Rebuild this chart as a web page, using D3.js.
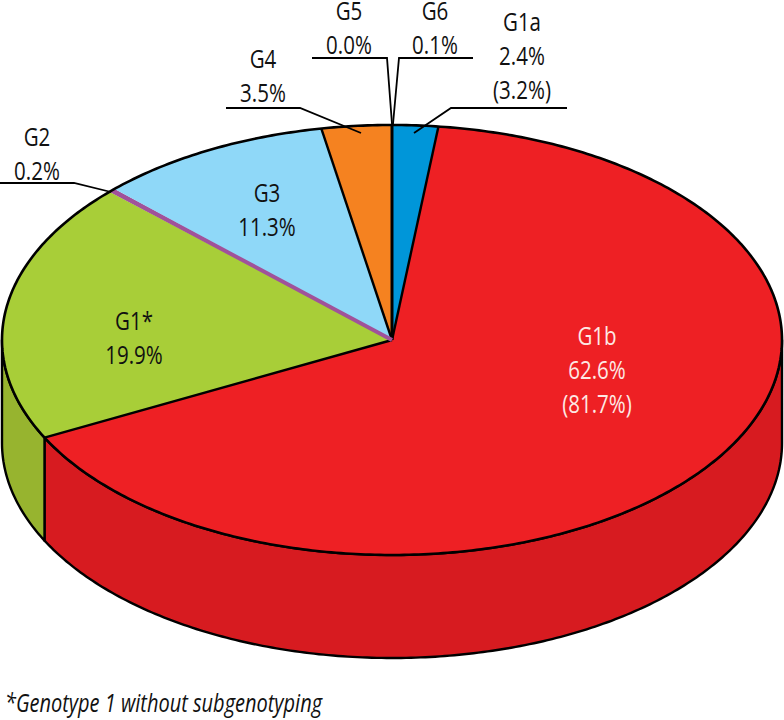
<!DOCTYPE html>
<html>
<head>
<meta charset="utf-8">
<script src="https://cdn.jsdelivr.net/npm/d3@7"></script>
<style>
  html, body { margin: 0; background: #fff; }
  text { font-family: "Open Sans", sans-serif; fill: #111; }
</style>
</head>
<body>
<div id="box"></div>
<script>
// slices clockwise from 12 o'clock
const genotypes = ["G1a", "G1b", "G1*", "G2", "G3", "G4", "G5", "G6"];
// share of the circle as it is drawn in the picture (the printed % differ a bit)
const drawnShares = [1.9, 65.6, 19.6, 0.3, 9.7, 2.9, 0, 0];
const printedPct = ["2.4%", "62.6%", "19.9%", "0.2%", "11.3%", "3.5%", "0.0%", "0.1%"];
const printedSub = ["(3.2%)", "(81.7%)", null, null, null, null, null, null];
const topColors = ["#0096d9", "#ee2024", "#a8ce38", "#a0529a", "#8fd8f8", "#f58220", "#f58220", "#0096d9"];
const sideColors = ["#0080b8", "#d71b20", "#97b42f", "#884580", "#79b8d3", "#d06e1b", "#d06e1b", "#0080b8"];

// label anchor (center x, first baseline) for each genotype
const labelAt = [[522, 31], [597, 345], [134, 330], [37, 146], [267, 202], [263, 68], [349, 20], [435, 20]];
const labelFill = ["#111", "#fde9e4", "#111", "#111", "#111", "#111", "#111", "#111"];
// leader lines, outside labels only
const leaders = [
  [[567, 108], [451, 108], [414, 133]],
  [[0, 183], [74, 183], [111, 192]],
  [[226, 108], [300, 108], [361, 133]],
  [[312, 58], [387, 58], [392, 124]],
  [[473, 58], [399, 58], [393, 124]]
];

const width = 784, height = 720;
const cx = 392, cy = 340, rx = 390, ry = 215, depth = 103;
const lineGap = 34, squeeze = 0.82, fontSize = 25;

const svg = d3.select("#box").append("svg")
  .attr("width", width)
  .attr("height", height)
  .style("display", "block");

const x = d3.scaleLinear().domain([-1, 1]).range([cx - rx, cx + rx]);
const y = d3.scaleLinear().domain([-1, 1]).range([cy - ry, cy + ry]);
const line = d3.line();

const slices = d3.pie().sort(null)(drawnShares);

// points along the rim, a is in radians clockwise from top
function rim(a0, a1, dy = 0) {
  const n = Math.max(2, Math.ceil((a1 - a0) * 80));
  return d3.range(n + 1).map(i => {
    const a = a0 + (a1 - a0) * i / n;
    return [x(Math.sin(a)), y(-Math.cos(a)) + dy];
  });
}

// side wall, only the front half can be seen
const sides = svg.append("g");
slices.forEach((s, i) => {
  const a0 = Math.max(s.startAngle, Math.PI / 2);
  const a1 = Math.min(s.endAngle, Math.PI * 1.5);
  if (a1 <= a0) return;
  const pts = rim(a0, a1).concat(rim(a0, a1, depth).reverse());
  sides.append("path")
    .attr("d", line(pts) + "Z")
    .attr("fill", sideColors[i])
    .attr("stroke", "#000")
    .attr("stroke-width", 2.4)
    .attr("stroke-linejoin", "round");
});

// top face
const center = [x(0), y(0)];
const tops = svg.append("g");
slices.forEach((s, i) => {
  tops.append("path")
    .attr("d", line([center].concat(rim(s.startAngle, s.endAngle))) + "Z")
    .attr("fill", topColors[i])
    .attr("stroke", "none");
});

// spokes between slices; G2 is only a purple stroke
slices.forEach((s, i) => {
  if (genotypes[i] == "G2" || genotypes[i] == "G3") return;
  tops.append("path")
    .attr("d", line([center, rim(s.startAngle, s.startAngle + 0.01)[0]]))
    .attr("stroke", "#000")
    .attr("stroke-width", 2.4);
});
const g2 = slices[genotypes.indexOf("G2")];
tops.append("path")
  .attr("d", line([center, rim(g2.startAngle, g2.endAngle)[1]]))
  .attr("stroke", topColors[3])
  .attr("stroke-width", 4);

tops.append("path")
  .attr("d", line(rim(0, Math.PI * 2)) + "Z")
  .attr("fill", "none")
  .attr("stroke", "#000")
  .attr("stroke-width", 2.6);

svg.append("g").selectAll("path")
  .data(leaders)
  .enter()
  .append("path")
  .attr("d", d => line(d))
  .attr("fill", "none")
  .attr("stroke", "#000")
  .attr("stroke-width", 1.8);

function putText(str, px, py, fill) {
  return svg.append("text")
    .attr("transform", `translate(${px},${py}) scale(${squeeze},1)`)
    .attr("text-anchor", "middle")
    .attr("font-size", fontSize)
    .style("fill", fill)
    .text(str);
}

genotypes.forEach((g, i) => {
  const [lx, ly] = labelAt[i];
  putText(g, lx, ly, labelFill[i]);
  putText(printedPct[i], lx, ly + lineGap, labelFill[i]);
  if (printedSub[i]) putText(printedSub[i], lx, ly + lineGap * 2, labelFill[i]);
});

svg.append("text")
  .attr("transform", "translate(5,712) scale(0.8,1)")
  .attr("font-size", fontSize)
  .attr("font-style", "italic")
  .text("*Genotype 1 without subgenotyping");
</script>
</body>
</html>
